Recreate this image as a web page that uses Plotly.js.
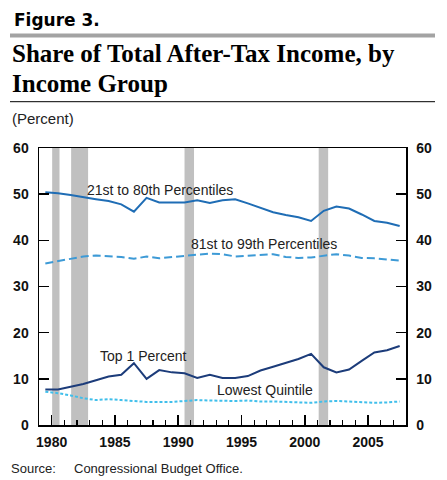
<!DOCTYPE html>
<html>
<head>
<meta charset="utf-8">
<script src="https://cdn.plot.ly/plotly-3.0.1.min.js"></script>
<style>
  html, body { margin: 0; padding: 0; background: #fff; }
  #chart { width: 447px; height: 480px; }
</style>
</head>
<body>
<div id="chart"></div>
<script>
// share of total after-tax income, percent, 1979-2007
const years = [1979, 1980, 1981, 1982, 1983, 1984, 1985, 1986, 1987, 1988,
    1989, 1990, 1991, 1992, 1993, 1994, 1995, 1996, 1997, 1998,
    1999, 2000, 2001, 2002, 2003, 2004, 2005, 2006, 2007]
const middle60 = [50.4, 50.2, 49.8, 49.3, 48.9, 48.5, 47.8, 46.2, 49.2, 48.2,
    48.2, 48.2, 48.7, 48.1, 48.7, 48.9, 48.0, 47.1, 46.1, 45.5,
    45.0, 44.2, 46.4, 47.3, 46.9, 45.6, 44.2, 43.8, 43.1]
const next19 = [35.0, 35.5, 36.1, 36.5, 36.7, 36.5, 36.4, 36.0, 36.5, 36.1,
    36.4, 36.6, 36.9, 37.1, 37.0, 36.5, 36.7, 36.8, 37.0, 36.4,
    36.2, 36.3, 36.6, 37.0, 36.7, 36.2, 36.1, 35.9, 35.6]
const top1 = [7.7, 7.7, 8.3, 8.9, 9.7, 10.5, 10.9, 13.4, 10.0, 11.9,
    11.4, 11.2, 10.2, 10.9, 10.2, 10.2, 10.6, 11.8, 12.6, 13.5,
    14.3, 15.4, 12.5, 11.4, 12.0, 13.9, 15.7, 16.2, 17.1]
const lowest = [7.2, 6.9, 6.4, 5.8, 5.4, 5.6, 5.4, 5.2, 5.0, 5.0,
    5.0, 5.2, 5.4, 5.3, 5.2, 5.2, 5.3, 5.1, 5.1, 5.0,
    4.9, 4.8, 5.1, 5.2, 5.1, 4.9, 4.8, 4.9, 5.1]

// recessions (fractional years)
const recessionStart = [1980.04, 1981.54, 1990.5, 2001.1]
const recessionEnd = [1980.62, 1982.88, 1991.25, 2001.85]

const xTicks = [1980, 1985, 1990, 1995, 2000, 2005]
const yTicks = [0, 10, 20, 30, 40, 50, 60]

// plot area in pixels, used to place the header texts around it
const W = 447, H = 480
const M = {l: 39, r: 41, t: 148, b: 55}
const px = x => (x - M.l) / (W - M.l - M.r)
const py = y => (H - M.b - y) / (H - M.t - M.b)

// annual values sit in the middle of their year
const xs = years.map(y => y + 0.5)

function line(y, color, dash) {
    return {
        type: 'scatter', mode: 'lines', x: xs, y: y,
        line: {color: color, width: 2, dash: dash},
        hoverinfo: 'skip'
    }
}

const data = [
    line(middle60, '#1f6db5', 'solid'),
    line(next19, '#3d9ad6', '8px,4px'),
    line(top1, '#1c3c7a', 'solid'),
    line(lowest, '#40bfeb', '3px,2px'),
    // empty trace so the right-hand axis is drawn
    {type: 'scatter', x: [], y: [], yaxis: 'y2', hoverinfo: 'skip'}
]

const shapes = recessionStart.map((s, i) => ({
    type: 'rect', xref: 'x', yref: 'paper', x0: s, x1: recessionEnd[i], y0: 0, y1: 1,
    fillcolor: '#c0c0c0', line: {width: 0}, layer: 'below'
}))
shapes.push({
    type: 'line', xref: 'paper', yref: 'paper', x0: px(10), x1: px(435), y0: py(35.5), y1: py(35.5),
    line: {color: '#a3a3a3', width: 4}
})
shapes.push({
    type: 'line', xref: 'paper', yref: 'paper', x0: px(10), x1: px(435), y0: py(101.7), y1: py(101.7),
    line: {color: '#000', width: 1}
})

const sans = 'Liberation Sans, Arial, sans-serif'
const labelFont = {family: sans, size: 14, color: '#222'}

function note(text, x, y, font, xanchor) {
    return {text: text, xref: 'paper', yref: 'paper', x: px(x), y: py(y),
        xanchor: xanchor || 'left', yanchor: 'middle', showarrow: false, font: font}
}
function seriesLabel(text, x, y) {
    return {text: text, xref: 'x', yref: 'y', x: x, y: y,
        xanchor: 'center', yanchor: 'middle', showarrow: false, font: labelFont}
}

const titleFont = {family: 'Liberation Serif, Times New Roman, serif', size: 25, color: '#000', weight: 'bold'}

const annotations = [
    note('Figure 3.', 12, 20, {family: 'DejaVu Sans', size: 17, color: '#000', weight: 'bold'}),
    note('Share of Total After-Tax Income, by', 10, 53.5, titleFont),
    note('Income Group', 10, 83, titleFont),
    note('(Percent)', 10, 118, {family: sans, size: 15, color: '#222'}),
    note('Source:', 9, 468, {family: sans, size: 13, color: '#222'}),
    note('Congressional Budget Office.', 72, 468, {family: sans, size: 13, color: '#222'}),
    seriesLabel('21st to 80th Percentiles', 1988.56, 50.9),
    seriesLabel('81st to 99th Percentiles', 1996.78, 39.2),
    seriesLabel('Top 1 Percent', 1987.2, 14.9),
    seriesLabel('Lowest Quintile', 1996.87, 7.6)
]

const tickFont = {family: sans, size: 14, color: '#111', weight: 'bold'}
const yAxis = {
    range: [0, 60], tickvals: yTicks, ticks: 'inside', ticklen: 10, tickwidth: 1.5,
    tickcolor: '#000', showgrid: false, zeroline: false, showline: true,
    linecolor: '#000', linewidth: 1.5, tickfont: tickFont, fixedrange: true,
    ticklabelstandoff: 6
}

const layout = {
    width: W, height: H,
    margin: M,
    paper_bgcolor: '#fff', plot_bgcolor: '#fff',
    showlegend: false,
    xaxis: {
        range: [1979, 2008], tickvals: xTicks, ticks: 'inside', ticklen: 10, tickwidth: 1.5,
        tickcolor: '#000', showgrid: false, zeroline: false, showline: true, mirror: true,
        linecolor: '#000', linewidth: 1.5, tickfont: tickFont, fixedrange: true,
        ticklabelstandoff: 4,
        minor: {dtick: 1, ticks: 'inside', ticklen: 5, tickwidth: 1.2, tickcolor: '#000', showgrid: false}
    },
    yaxis: Object.assign({}, yAxis, {side: 'left'}),
    yaxis2: Object.assign({}, yAxis, {side: 'right', overlaying: 'y'}),
    shapes: shapes,
    annotations: annotations
}

Plotly.newPlot('chart', data, layout, {displayModeBar: false, staticPlot: true})
</script>
</body>
</html>
